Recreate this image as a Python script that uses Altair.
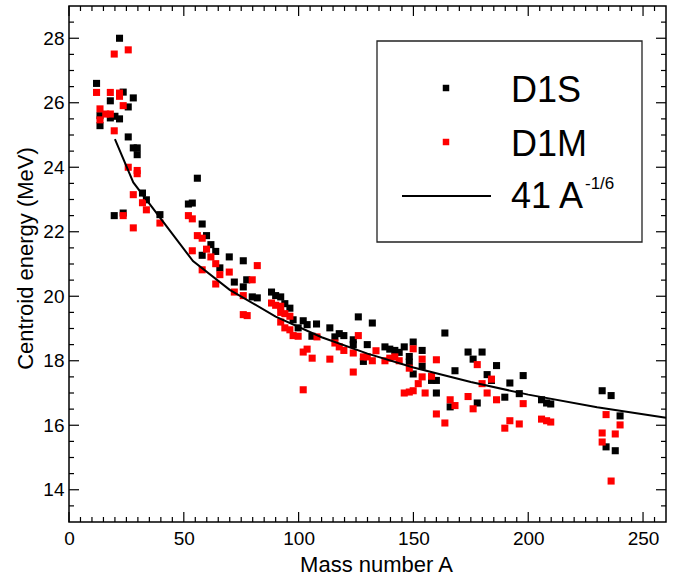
import altair as alt
import pandas as pd

# ---------------- data ----------------
d1s_A = [12, 13.5, 13.5, 18, 18, 20, 22, 22, 23.6, 28, 25.8, 25.8, 28, 29.7, 29.7,
         32, 33.7, 39.6, 19.7, 23.6, 55.9, 52, 53.7, 58, 59.9, 61.8, 63.9, 58, 69.8,
         75.9, 65.7, 72, 77.4, 75.9, 79.8, 82, 88.2, 90, 92.2, 94, 96.2, 97.6, 102,
         103.7, 99.8, 107.8, 105.8, 113.6, 117.7, 119.7, 115.8, 126, 132.1, 123.8,
         123.8, 129.9, 128.2, 137.6, 139.7, 141.9, 143.8, 146, 149.9, 153.8, 148.2,
         148.2, 153.8, 149.9, 157.9, 160, 163.7, 160, 168.1, 166, 173.8, 179.9, 176,
         182.1, 184, 186.2, 177.8, 192, 197.8, 189.8, 196.1, 205.8, 208, 209.8,
         232.2, 236.1, 240, 233.9, 237.9]
d1s_E = [26.6, 25.29, 25.6, 26.06, 25.53, 25.58, 28.0, 25.5, 26.33, 26.15, 25.87,
         24.94, 24.6, 24.6, 24.39, 23.2, 22.99, 22.53, 22.5, 22.58, 23.66, 22.86,
         22.89, 22.24, 21.88, 21.6, 21.39, 21.27, 21.22, 21.1, 20.88, 20.44, 20.51,
         20.29, 19.98, 19.95, 20.13, 20.02, 19.98, 19.77, 19.63, 19.27, 19.24, 19.12,
         19.02, 19.14, 18.76, 19.02, 18.84, 18.78, 18.74, 19.36, 19.17, 18.65, 18.5,
         18.5, 17.98, 18.43, 18.36, 18.32, 18.26, 18.43, 18.58, 18.32, 18.13, 17.96,
         17.83, 17.59, 17.39, 17.39, 18.86, 17.0, 17.69, 16.57, 18.27, 18.27, 18.05,
         17.57, 17.39, 17.85, 16.69, 17.31, 17.54, 16.87, 16.98, 16.79, 16.69, 16.66,
         17.07, 16.92, 16.29, 15.33, 15.21]

d1m_A = [19.7, 25.8, 12, 18, 22, 22, 23.6, 13.5, 13.5, 16, 18, 19.7, 25.8, 29.7,
         29.7, 28, 32, 33.7, 39.6, 23.6, 28, 52, 53.7, 55.9, 58, 53.7, 59.9, 61.8,
         63.9, 58, 65.7, 69.8, 82, 63.9, 79.8, 72, 75.9, 75.9, 77.6, 88.2, 90, 92.2,
         92.2, 94, 96.2, 92.2, 94, 96.2, 97.6, 99.8, 102, 103.7, 105.9, 108, 102,
         113.6, 115.8, 117.7, 119.7, 126, 123.8, 123.8, 128.2, 129.9, 132.1, 133.7,
         137.6, 139.7, 141.9, 143.8, 149.9, 148.2, 153.8, 153.8, 152.1, 157.9, 160,
         155.1, 146, 148.2, 149.9, 160, 163.7, 166, 168.1, 173.8, 176, 177.8, 179.9,
         182.1, 184, 186.2, 197.8, 192, 196.1, 189.8, 205.8, 208, 209.8, 233.9, 240,
         232.2, 237.9, 232.2, 236.1]
d1m_E = [27.51, 27.64, 26.32, 26.32, 26.3, 26.2, 25.91, 25.81, 25.47, 25.65, 25.65,
         25.13, 24.0, 23.9, 23.8, 23.15, 22.9, 22.68, 22.27, 22.5, 22.12, 22.5, 22.4,
         21.88, 21.8, 21.41, 21.46, 21.22, 21.01, 20.82, 20.67, 20.75, 20.95, 20.38,
         20.51, 20.13, 20.02, 19.43, 19.4, 19.79, 19.72, 19.69, 19.5, 19.46, 19.38,
         19.2, 19.02, 18.96, 18.78, 18.76, 18.27, 18.36, 18.08, 18.74, 17.1, 18.05,
         18.55, 18.43, 18.32, 18.78, 18.24, 17.65, 18.12, 18.12, 18.0, 18.31, 18.0,
         18.08, 18.12, 18.0, 18.37, 17.77, 18.05, 17.5, 17.29, 17.52, 18.03, 17.0,
         17.0, 17.03, 17.07, 16.35, 16.07, 16.79, 16.61, 16.89, 16.51, 17.88, 17.29,
         17.0, 17.43, 16.79, 16.67, 16.14, 16.04, 15.91, 16.19, 16.14, 16.1, 16.33,
         16.01, 15.76, 15.73, 15.48, 14.27]

# the 41 A^-1/6 curve, as drawn (polyline vertices)
line_A = [20, 28, 54, 70, 90, 110, 130, 150, 175, 200, 230, 260]
line_E = [24.87, 23.53, 21.09, 20.20, 19.37, 18.73, 18.22, 17.79, 17.34, 16.95, 16.56, 16.23]

x_labels = [0, 50, 100, 150, 200, 250]
y_labels = [14, 16, 18, 20, 22, 24, 26, 28]
x_minor = [v for v in range(5, 260, 5) if v % 50 != 0]
y_minor = [v / 2 for v in range(27, 58) if v % 4 != 0]

legend_names = ["D1S", "D1M", "41 A", "-1/6"]

# ---------------- chart ----------------
FONT = "Liberation Sans"
W, H = 597, 516
xs = alt.Scale(domain=[0, 260], nice=False, zero=False)
ys = alt.Scale(domain=[13, 29], nice=False, zero=False)

s_df = pd.DataFrame({"A": d1s_A, "E": d1s_E})
m_df = pd.DataFrame({"A": d1m_A, "E": d1m_E})
l_df = pd.DataFrame({"A": line_A, "E": line_E})

xaxis = alt.Axis(values=x_labels, title="Mass number A", ticks=False, tickSize=0,
                 domain=False, grid=False, labelPadding=22, labelBaseline="alphabetic",
                 labelFontSize=19, labelFont=FONT, labelColor="black",
                 titleFont=FONT, titleFontSize=22, titleFontWeight="normal",
                 titleColor="black", titleX=307, titleY=49, titleBaseline="alphabetic",
                 titleAlign="center", format="d", labelFlush=False)
yaxis = alt.Axis(values=y_labels, title="Centroid energy (MeV)", ticks=False, tickSize=0,
                 domain=False, grid=False, labelPadding=5, labelFontSize=19,
                 labelFont=FONT, labelColor="black", titleFont=FONT, titleFontSize=22,
                 titleFontWeight="normal", titleColor="black", titleAngle=-90,
                 titleX=-44, titleY=252, titleBaseline="middle", titleAlign="center",
                 format="d", labelFlush=False)

X = lambda f: alt.X(f, scale=xs, axis=xaxis)
Y = lambda f: alt.Y(f, scale=ys, axis=yaxis)

black_pts = alt.Chart(s_df).mark_square(size=50, color="black", opacity=1).encode(
    x=X("A:Q"), y=Y("E:Q"))
red_pts = alt.Chart(m_df).mark_square(size=50, color="#ff0000", opacity=1).encode(
    x=X("A:Q"), y=Y("E:Q"))
curve = alt.Chart(l_df).mark_line(color="black", strokeWidth=2).encode(
    x=X("A:Q"), y=Y("E:Q"))


def xticks(vals, ln):
    df = pd.DataFrame({"A": vals})
    bottom = alt.Chart(df).mark_rule(color="black", strokeWidth=1.2).encode(
        x=X("A:Q"), y=alt.value(H), y2=alt.value(H - ln))
    top = alt.Chart(df).mark_rule(color="black", strokeWidth=1.2).encode(
        x=X("A:Q"), y=alt.value(0), y2=alt.value(ln))
    return [bottom, top]


def yticks(vals, ln):
    df = pd.DataFrame({"E": vals})
    left = alt.Chart(df).mark_rule(color="black", strokeWidth=1.2).encode(
        y=Y("E:Q"), x=alt.value(0), x2=alt.value(ln))
    right = alt.Chart(df).mark_rule(color="black", strokeWidth=1.2).encode(
        y=Y("E:Q"), x=alt.value(W), x2=alt.value(W - ln))
    return [left, right]


tick_layers = (xticks(x_labels, 10) + xticks(x_minor, 5)
               + yticks(y_labels, 10) + yticks(y_minor, 5))

one = pd.DataFrame({"k": [0]})
leg_box = alt.Chart(one).mark_rect(fill="white", stroke="#222222", strokeWidth=1.3).encode(
    x=alt.value(308), x2=alt.value(573), y=alt.value(35), y2=alt.value(236))
leg_s = alt.Chart(one).mark_square(size=42, color="black", opacity=1).encode(
    x=alt.value(377), y=alt.value(82))
leg_m = alt.Chart(one).mark_square(size=42, color="#ff0000", opacity=1).encode(
    x=alt.value(377), y=alt.value(136))
leg_l = alt.Chart(one).mark_rule(color="black", strokeWidth=2).encode(
    x=alt.value(333), x2=alt.value(422), y=alt.value(190))


def leg_text(txt, x, y, size):
    return alt.Chart(one).mark_text(text=txt, font=FONT, fontSize=size, color="black",
                                    align="left", baseline="alphabetic").encode(
        x=alt.value(x), y=alt.value(y))


leg_t1 = leg_text(legend_names[0], 442, 96, 36)
leg_t2 = leg_text(legend_names[1], 442, 150, 36)
leg_t3 = leg_text(legend_names[2], 442, 202, 36)
leg_t4 = leg_text(legend_names[3], 516, 183, 17)

chart = alt.layer(
    black_pts, red_pts, curve, *tick_layers,
    leg_box, leg_s, leg_m, leg_l, leg_t1, leg_t2, leg_t3, leg_t4,
).properties(
    width=W, height=H,
    autosize=alt.AutoSizeParams(type="none"),
    padding={"left": 69, "top": 6, "right": 19, "bottom": 53},
    background="white",
).configure_view(stroke="black", strokeWidth=1.5)

chart.save("out.html", embed_options={"renderer": "svg", "actions": False})
